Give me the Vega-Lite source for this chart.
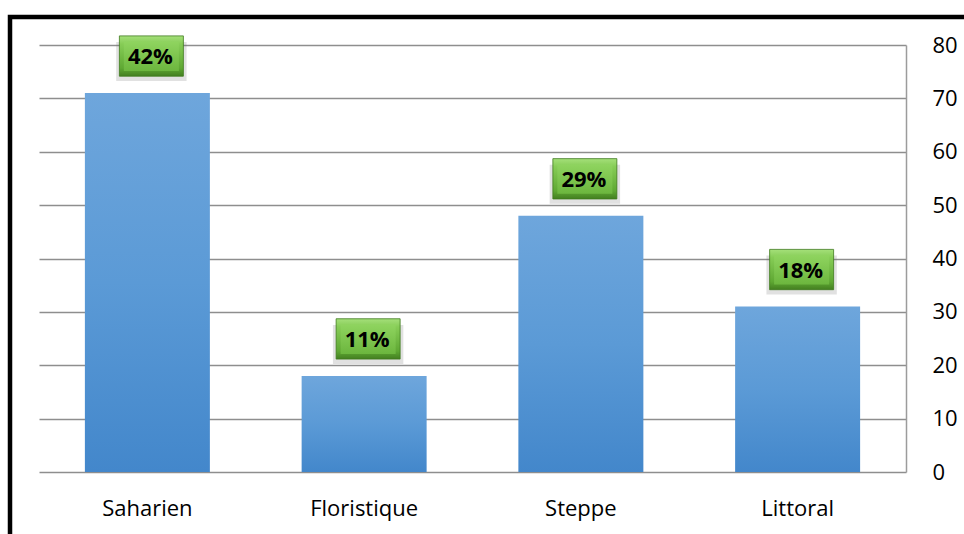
{
  "$schema": "https://vega.github.io/schema/vega-lite/v6.json",
  "width": 980,
  "height": 540,
  "autosize": {"type": "none"},
  "padding": {"left": 10, "top": 17, "right": 0, "bottom": 0},
  "background": "white",
  "config": {
    "view": {"stroke": "black", "strokeWidth": 4.5, "fill": "white"},
    "font": "Open Sans"
  },
  "data": {
    "values": [
      {"zone": "Saharien", "count": 71, "label": "42%"},
      {"zone": "Floristique", "count": 18, "label": "11%"},
      {"zone": "Steppe", "count": 48, "label": "29%"},
      {"zone": "Littoral", "count": 31, "label": "18%"}
    ]
  },
  "encoding": {
    "x": {
      "field": "zone",
      "type": "nominal",
      "sort": null,
      "scale": {"range": [29, 896], "paddingInner": 0.4233, "paddingOuter": 0.2117},
      "axis": {
        "orient": "bottom",
        "offset": -85,
        "title": null,
        "domain": false,
        "ticks": false,
        "tickSize": 0,
        "grid": false,
        "labelAngle": 0,
        "labelFont": "Open Sans",
        "labelFontSize": 22,
        "labelColor": "black",
        "labelPadding": 43,
        "labelBaseline": "alphabetic"
      }
    }
  },
  "resolve": {"axis": {"y": "independent"}},
  "layer": [
    {
      "mark": {
        "type": "bar",
        "fill": {
          "gradient": "linear",
          "x1": 0, "y1": 0, "x2": 0, "y2": 1,
          "stops": [
            {"offset": 0, "color": "#6ea6dc"},
            {"offset": 0.5, "color": "#5b9ad6"},
            {"offset": 1, "color": "#4387cb"}
          ]
        }
      },
      "encoding": {
        "y": {
          "field": "count",
          "type": "quantitative",
          "scale": {"domain": [0, 80], "range": [455, 28], "nice": false, "zero": true},
          "axis": {
            "orient": "left",
            "title": null,
            "values": [0, 10, 20, 30, 40, 50, 60, 70, 80],
            "ticks": false,
            "domain": false,
            "labels": false,
            "grid": true,
            "gridColor": "#8e8e8e",
            "gridWidth": 1.3
          }
        }
      }
    },
    {
      "mark": {
        "type": "point",
        "filled": true,
        "shape": "M-1.1,-0.5H1.1V0.72H-1.1Z",
        "size": 4096,
        "fill": "#777777",
        "opacity": 0.22,
        "xOffset": 4,
        "yOffset": -35
      },
      "encoding": {
        "y": {
          "field": "count",
          "type": "quantitative",
          "axis": {
            "orient": "right",
            "offset": -84,
            "title": null,
            "values": [0, 10, 20, 30, 40, 50, 60, 70, 80],
            "ticks": false,
            "tickSize": 0,
            "domain": true,
            "domainColor": "#9c9c9c",
            "domainWidth": 1.5,
            "grid": false,
            "labelFont": "Open Sans",
            "labelFontSize": 22,
            "labelColor": "black",
            "labelPadding": 26,
            "labelAlign": "left",
            "labelBaseline": "middle"
          }
        }
      }
    },
    {
      "mark": {
        "type": "point",
        "filled": true,
        "shape": "M-1,-0.63H1V0.63H-1Z",
        "size": 4096,
        "opacity": 1,
        "stroke": "#3f7a1d",
        "strokeWidth": 0.8,
        "fill": {
          "gradient": "linear",
          "x1": 0, "y1": 0, "x2": 0, "y2": 1,
          "stops": [
            {"offset": 0, "color": "#a5e07a"},
            {"offset": 0.2, "color": "#86cc56"},
            {"offset": 0.8, "color": "#5fa833"},
            {"offset": 1, "color": "#437f20"}
          ]
        },
        "xOffset": 4,
        "yOffset": -37
      },
      "encoding": {"y": {"field": "count", "type": "quantitative", "axis": null}}
    },
    {
      "mark": {
        "type": "point",
        "filled": true,
        "shape": "M-0.86,-0.45H0.86V0.47H-0.86Z",
        "size": 4096,
        "opacity": 1,
        "fill": {
          "gradient": "linear",
          "x1": 0, "y1": 0, "x2": 0, "y2": 1,
          "stops": [
            {"offset": 0, "color": "#8fd45f"},
            {"offset": 1, "color": "#6cb63e"}
          ]
        },
        "xOffset": 4,
        "yOffset": -37
      },
      "encoding": {"y": {"field": "count", "type": "quantitative", "axis": null}}
    },
    {
      "mark": {
        "type": "text",
        "font": "Open Sans",
        "fontSize": 22,
        "fontWeight": "bold",
        "color": "black",
        "align": "center",
        "baseline": "middle",
        "xOffset": 3,
        "yOffset": -36
      },
      "encoding": {
        "y": {"field": "count", "type": "quantitative", "axis": null},
        "text": {"field": "label"}
      }
    }
  ]
}
